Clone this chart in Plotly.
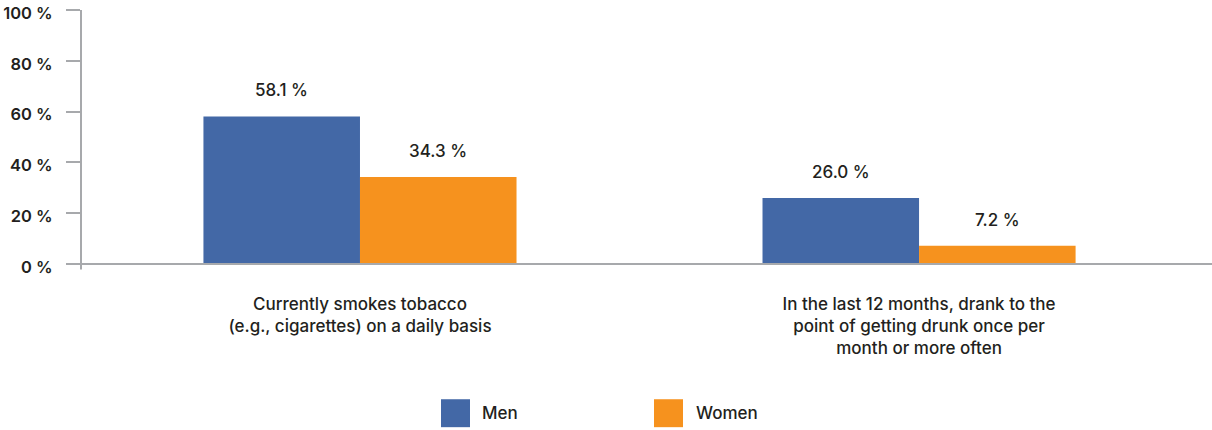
import plotly.graph_objects as go

# Data
categories = [
    "Currently smokes tobacco<br>(e.g., cigarettes) on a daily basis",
    "In the last 12 months, drank to the<br>point of getting drunk once per<br>month or more often",
]
series_names = ["Men", "Women"]
men_values = [58.1, 26.0]
women_values = [34.3, 7.2]
y_ticks = [0, 20, 40, 60, 80, 100]
y_tick_labels = ["0 %", "20 %", "40 %", "60 %", "80 %", "100 %"]

BLUE = "#4368a6"
ORANGE = "#f6921e"
TEXT = "#231f20"
AXIS = "#a7a9ac"
FONT = "Inter"
FS = 17

W, H = 1212, 430
ML, MR, MT, MB = 81, 0, 10, 165.5
plot_w = W - ML - MR
plot_h = H - MT - MB


def px_x(p):
    return (p - ML) / plot_w


def px_y(p):
    return (H - MB - p) / plot_h


x_idx = list(range(len(categories)))

fig = go.Figure()
for name, vals, color in [("Men", men_values, BLUE), ("Women", women_values, ORANGE)]:
    fig.add_trace(go.Bar(
        x=x_idx, y=vals, name=name, marker=dict(color=color, line_width=0),
        showlegend=False, hoverinfo="skip",
    ))

# value labels above the bars
bar_half = (1 - 0.44) / 4  # half width of one bar in category units
annotations = []
for i in x_idx:
    for vals, sign in [(men_values, -1), (women_values, 1)]:
        annotations.append(dict(
            x=i + sign * bar_half, y=vals[i], xref="x", yref="y",
            text=f"{vals[i]:.1f} %", showarrow=False, yshift=26,
            font=dict(family=FONT, size=FS, color=TEXT, weight=500),
        ))

# legend drawn as large swatches with labels
shapes = []
legend_items = [("Men", BLUE, 441, 480), ("Women", ORANGE, 654, 694)]
for label, color, sx, tx in legend_items:
    shapes.append(dict(type="rect", xref="paper", yref="paper",
                       x0=px_x(sx), x1=px_x(sx + 29), y0=px_y(428), y1=px_y(400),
                       fillcolor=color, line_width=0))
    annotations.append(dict(x=px_x(tx), y=px_y(414), xref="paper", yref="paper",
                            text=label, showarrow=False, xanchor="left", yanchor="middle",
                            font=dict(family=FONT, size=FS, color=TEXT, weight=500)))

# axis lines
shapes.append(dict(type="line", xref="paper", yref="paper",
                   x0=px_x(67), x1=1, y0=0, y1=0, line=dict(color=AXIS, width=2), layer="above"))
shapes.append(dict(type="line", xref="paper", yref="paper",
                   x0=0, x1=0, y0=px_y(270), y1=1, line=dict(color=AXIS, width=2), layer="above"))

fig.update_layout(
    width=W, height=H,
    margin=dict(l=ML, r=MR, t=MT, b=MB, pad=0),
    paper_bgcolor="white", plot_bgcolor="white",
    barmode="group", bargap=0.44, bargroupgap=0,
    font=dict(family=FONT, size=FS, color=TEXT),
    xaxis=dict(
        range=[-0.499, 1.524], tickvals=x_idx, ticktext=categories,
        showgrid=False, zeroline=False, showline=False, ticks="",
        ticklabelstandoff=28,
        tickfont=dict(family=FONT, size=FS, color=TEXT, weight=500),
    ),
    yaxis=dict(
        range=[0, 100], tickvals=y_ticks, ticktext=y_tick_labels,
        showgrid=False, zeroline=False, showline=False,
        ticks="outside", ticklen=14, tickwidth=2, tickcolor=AXIS,
        ticklabelstandoff=10, ticklabelshift=3, ticklabeloverflow="allow",
        tickfont=dict(family=FONT, size=16.5, color=TEXT, weight=600),
    ),
    shapes=shapes, annotations=annotations, showlegend=False,
)

fig.write_html("out.html")
